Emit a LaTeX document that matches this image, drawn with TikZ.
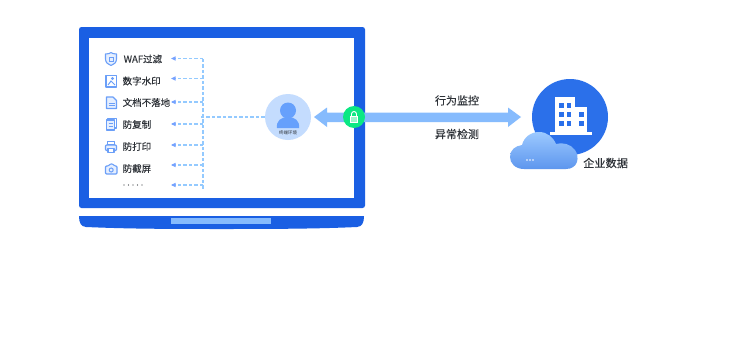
\documentclass[tikz,border=0pt]{standalone}
\usepackage{fontspec}
\setmainfont{Noto Sans CJK SC}
\usetikzlibrary{arrows.meta,decorations.markings}
\definecolor{lapblue}{HTML}{1A5FE3}
\definecolor{padblue}{HTML}{86BBFD}
\definecolor{dashblue}{HTML}{94CAFF}
\definecolor{iconblue}{HTML}{6B9FF8}
\definecolor{iconfill}{HTML}{E6EFFE}
\definecolor{personbg}{HTML}{C4DCFE}
\definecolor{personfg}{HTML}{66A0FC}
\definecolor{lockgreen}{HTML}{0BE884}
\definecolor{corpblue}{HTML}{2B70EA}
\definecolor{cloudtop}{HTML}{9CC9FF}
\definecolor{cloudbot}{HTML}{5D96EE}
\definecolor{labelgray}{HTML}{2E3238}
\tikzset{
  item/.style={anchor=west,inner sep=0pt,font=\fontsize{9.5}{9.5}\selectfont\addfontfeature{FakeBold=0.25},text=labelgray},
  flowlabel/.style={inner sep=0pt,font=\fontsize{11}{11}\selectfont\addfontfeature{FakeBold=0.25},text=labelgray},
  feed/.style={decoration={markings,
      mark=between positions 0 and 1 step 5.5pt with {\fill[dashblue] (0,-.6pt) rectangle (3.5pt,.6pt);}},
    postaction={decorate}},
  feedtip/.style={feed,postaction={decoration={markings,
      mark=at position 1 with {\fill[dashblue!80!blue] (1pt,0) -- (-3.5pt,-2.2pt) -- (-3.5pt,2.2pt) -- cycle;}},decorate}},
  glyph/.style={draw=iconblue,line width=1.1pt,fill=iconfill,line join=round},
  glyphline/.style={draw=iconblue,line width=1pt},
}
\begin{document}
\begin{tikzpicture}[x=1pt,y=-1pt]
\useasboundingbox (0,0) rectangle (730,343);
\fill[white] (0,0) rectangle (730,343);

% laptop screen and base
\fill[lapblue,rounded corners=2.5pt] (79,27) rectangle (365,208);
\fill[white] (89,38) rectangle (354,198);
\fill[lapblue] (79,216) -- (364,216) .. controls (364,223) and (362,226.5) .. (357,227)
  .. controls (320,228.7) and (280,229) .. (222,229)
  .. controls (160,229) and (125,228.7) .. (86,227) .. controls (81,226.5) and (79,223) .. (79,216) -- cycle;
\fill[padblue] (171,218) rectangle (271,224);

% feature icons
\draw[glyph] (105.5,54) .. controls (108,54) and (110,53.5) .. (111,52.5) .. controls (112,53.5) and (114,54) .. (116.5,54)
  -- (116.5,59) .. controls (116.5,62.5) and (114,64.5) .. (111,65.5) .. controls (108,64.5) and (105.5,62.5) .. (105.5,59) -- cycle;
\draw[glyphline] (109,57) rectangle (113,61);
\draw[glyph,fill=white] (106,75.5) rectangle (116.5,87);
\draw[glyphline] (108,85) -- (111,81) -- (115,85) (112.5,78.5) circle (1pt);
\draw[glyph] (106.5,97) -- (113,97) -- (116.5,100.5) -- (116.5,108.5) -- (106.5,108.5) -- cycle;
\draw[glyphline] (108.5,103) -- (114.5,103) (108.5,105.8) -- (114.5,105.8);
\draw[glyph,fill=white] (108,118.5) rectangle (116.5,128);
\draw[glyph] (106.5,120) rectangle (114.5,130);
\draw[glyphline] (108.5,123.5) -- (112.5,123.5) (108.5,126.5) -- (112.5,126.5);
\draw[glyph,fill=white] (107.5,141.5) rectangle (114.5,145);
\draw[glyph,rounded corners=1pt] (105.5,145) rectangle (116.5,150.5);
\draw[glyph,fill=white] (108,148.5) rectangle (114,152.5);
\draw[glyph,rounded corners=1pt] (105.5,166) -- (108.5,166) -- (110,164) -- (113,164) -- (114.5,166) -- (117,166) -- (117,174) -- (105.5,174) -- cycle;
\draw[glyphline] (111.2,170) circle (2pt);

% feature labels
\node[item] (waf) at (123.5,59) {WAF过滤};
\node[item] (mark) at (122.5,81) {数字水印};
\node[item] (doc) at (122.5,102.5) {文档不落地};
\node[item] (copy) at (122.5,124.5) {防复制};
\node[item] (print) at (122.5,146.5) {防打印};
\node[item] (shot) at (122.5,168.5) {防截屏};
\foreach \dx in {124,128.5,133,137.5,142}
  \fill[labelgray] (\dx,185) circle (.6pt);

% terminal environment badge
\node[circle,fill=personbg,minimum size=46pt,inner sep=0pt] (env) at (288,117) {};
\fill[personfg] (288,110.5) circle (8pt);
\fill[personfg] (277,128) .. controls (276,121) and (281,117) .. (288,117)
  .. controls (295,117) and (300,121) .. (299,128) -- cycle;
\node[inner sep=0pt,font=\fontsize{4.5}{4.5}\selectfont,text=labelgray] (envlabel) at (288,132.5) {终端环境};

% dashed distribution lines, stamped along each route
\coordinate (bus) at (203,117);
\coordinate (top) at (203,58.5);
\coordinate (r2) at (203,78.5);
\coordinate (r3) at (203,102);
\coordinate (r4) at (203,124);
\coordinate (r5) at (203,145);
\coordinate (r6) at (203,165);
\coordinate (r7) at (203,185);
\coordinate (t1) at (172,58.5);
\coordinate (t2) at (172,78.5);
\coordinate (t3) at (172,102);
\coordinate (t4) at (172,124);
\coordinate (t5) at (172,145);
\coordinate (t6) at (172,165);
\coordinate (t7) at (172,185);
\path[feed] (env.west) -- (bus);
\path[feed] (top) -- (r7);
\foreach \a/\b in {top/t1,r2/t2,r3/t3,r4/t4,r5/t5,r6/t6,r7/t7}
  \path[feedtip] (\a) -- (\b);

% two-way arrow
\fill[padblue] (314,117) -- (327,107.5) -- (327,112.5) -- (508,112.5) -- (508,107.5) -- (521,117)
  -- (508,127) -- (508,122) -- (327,122) -- (327,127) -- cycle;

% lock badge
\node[circle,fill=lockgreen,minimum size=22pt,inner sep=0pt] (lock) at (354,117) {};
\draw[white,line width=.9pt,fill=lockgreen!40!white] (350.5,116) rectangle (357.5,122);
\draw[white,line width=.9pt] (351.5,116) -- (351.5,114) arc (180:0:2.5pt) -- (356.5,116);

% corporate data badge
\node[circle,fill=corpblue,minimum size=76pt,inner sep=0pt] (corp) at (570,117) {};
\fill[white] (555,97) rectangle (575,132);
\fill[white] (575,107) rectangle (587,132);
\fill[white] (550,132) rectangle (592,134.5);
\foreach \px/\py in {559/103,566.5/103,559/112,566.5/112,559/121,566.5/121,579/112,579/121}
  \fill[corpblue] (\px,\py) rectangle ++(4.5,5);

% cloud
\shade[top color=cloudtop,bottom color=cloudbot]
  (524,169) .. controls (515,169) and (510,163) .. (510,157)
  .. controls (510,150) and (515,146) .. (522,145)
  .. controls (524,137) and (531,132) .. (539,132)
  .. controls (547,132) and (553,137) .. (556,144)
  .. controls (562,142) and (571,144) .. (575,150)
  .. controls (580,157) and (578,169) .. (566,169) -- cycle;
\foreach \cx in {527,530,533}
  \fill[white] (\cx,160) circle (.9pt);

% text labels
\node[flowlabel] (watch) at (457,100.5) {行为监控};
\node[flowlabel] (alert) at (457,134) {异常检测};
\node[flowlabel,anchor=west,font=\fontsize{11.2}{11.2}\selectfont\addfontfeature{FakeBold=0.25}] (data) at (583,163) {企业数据};
\end{tikzpicture}
\end{document}
